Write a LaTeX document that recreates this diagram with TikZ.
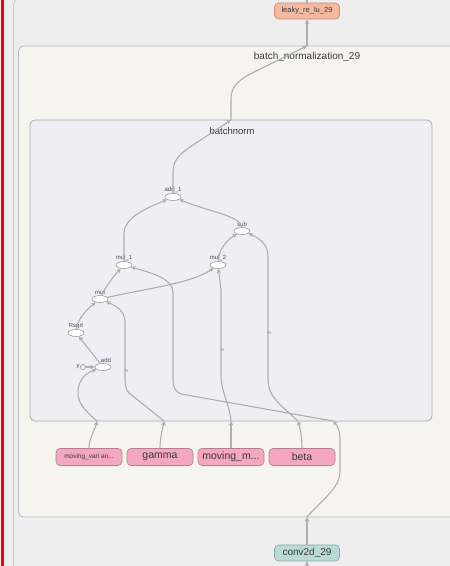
\documentclass[tikz,border=0pt]{standalone}
\usepackage{fontspec}
\setmainfont{Liberation Sans}
\usetikzlibrary{arrows.meta,shapes.geometric}
\definecolor{bgc}{HTML}{EEEEEE}
\definecolor{creamc}{HTML}{F5F4EF}
\definecolor{lavc}{HTML}{F0EEF5}
\definecolor{boxline}{HTML}{BBBBBB}
\definecolor{edgec}{HTML}{AEAEAE}
\definecolor{txtc}{HTML}{3A3A3A}
\definecolor{lblc}{HTML}{4A4A5A}
\definecolor{salmonf}{HTML}{F3B9A1}
\definecolor{salmond}{HTML}{C98A70}
\definecolor{pinkf}{HTML}{F4A7C0}
\definecolor{pinkd}{HTML}{B97D90}
\definecolor{tealf}{HTML}{BAD9D9}
\definecolor{teald}{HTML}{86A8A8}
\tikzset{
  edge/.style={draw=edgec, line width=1.1pt, -{Stealth[length=4.5pt,width=4.5pt]}},
  plainedge/.style={draw=edgec, line width=1.1pt},
  opnode/.style={ellipse, draw=black!38, fill=white, line width=0.6pt, minimum width=16pt, minimum height=7pt, inner sep=0pt},
  oplbl/.style={font=\fontsize{6}{6}\selectfont, text=lblc, inner sep=0.5pt},
  metabox/.style={rounded corners=4pt, line width=0.6pt, minimum height=17pt, inner sep=1pt, text=txtc},
  pinkbox/.style={metabox, fill=pinkf, draw=pinkd, minimum width=66pt, font=\fontsize{10.5}{10.5}\selectfont},
  elbl/.style={font=\fontsize{5}{5}\selectfont, text=black!50, rotate=90, inner sep=0pt}
}
\begin{document}
\begin{tikzpicture}[x=1pt,y=-1pt]
\useasboundingbox (0,0) rectangle (450,566);
% background
\fill[bgc] (0,0) rectangle (450,566);
\fill[red] (1,0) rectangle (4,566);
% outer container
\draw[black!22, line width=0.8pt, rounded corners=10pt, fill=bgc] (13.5,-4) rectangle (470,580);
% batch_normalization_29 box
\draw[boxline, line width=0.8pt, rounded corners=5pt, fill=creamc] (18.5,46) rectangle (470,517);
\node[font=\fontsize{10}{10}\selectfont, text=txtc] (bnlbl) at (307,57) {batch\_normalization\_29};
% batchnorm box
\draw[black!33, line width=0.8pt, rounded corners=5pt, fill=lavc] (30,120) rectangle (432,421);
\draw[white, line width=0.8pt] (423,125.5) -- (428,125.5);
\node[font=\fontsize{9.5}{9.5}\selectfont, text=txtc] (bnormlbl) at (232,131) {batchnorm};

% top / bottom nodes
\node[metabox, fill=salmonf, draw=salmond, minimum width=65pt, minimum height=16pt, font=\fontsize{7.5}{7.5}\selectfont] (lk) at (307,11) {leaky\_re\_lu\_29};
\node[metabox, fill=tealf, draw=teald, minimum width=65pt, minimum height=16pt, font=\fontsize{10}{10}\selectfont] (cv) at (307,553) {conv2d\_29};
\node[pinkbox, font=\fontsize{6.5}{6.5}\selectfont] (mv) at (89,457) {moving\_vari an...};
\node[pinkbox] (gm) at (160,457) {gamma};
\node[pinkbox] (mm) at (231,457) {moving\_m...};
\node[pinkbox] (bt) at (302,457) {beta};

% ops
\node[opnode, label={[oplbl]above:add\_1}] (add1) at (173,197) {};
\node[opnode, label={[oplbl]above:sub}] (sub) at (242,231) {};
\node[opnode, label={[oplbl]above:mul\_1}] (mul1) at (124,265) {};
\node[opnode, label={[oplbl]above:mul\_2}] (mul2) at (218,265) {};
\node[opnode, label={[oplbl]above:mul}] (mul) at (100,299) {};
\node[opnode, label={[oplbl]above:Rsqrt}] (rs) at (76,333) {};
\node[opnode, label={[oplbl,xshift=3pt]above:add}] (add) at (103,367) {};
\node[circle, draw=black!45, fill=white, line width=0.6pt, minimum size=5pt, inner sep=0pt, label={[oplbl]left:y}] (yc) at (83,367) {};

% boundary coordinates
\coordinate (c1) at (97,421);
\coordinate (c2) at (164,421);
\coordinate (c3) at (231,421);
\coordinate (c4) at (298,421);
\coordinate (c5) at (307,517);
\coordinate (c6) at (333,421);
\coordinate (c7) at (231,120);
\coordinate (c8) at (307,46);
\coordinate (cbot) at (307,568);
\coordinate (ctop) at (307,-2);

% edges from outside
\draw[edge] (mv.north) .. controls (89,438) and (95,430) .. (c1);
\draw[edge] (c1) .. controls (82,408) and (78,402) .. (78,392) .. controls (78,380) and (86,373) .. (add);
\draw[edge] (gm.north) .. controls (160,436) and (163,428) .. (c2);
\draw[edge] (c2) -- (129,393) .. controls (126,390) and (125,386) .. (125,378) -- (125,322) .. controls (125,310) and (114,305) .. (mul);
\draw[edge] (mm.north) -- (c3);
\draw[edge] (c3) .. controls (229,402) and (221,392) .. (221,375) -- (221,290) -- (mul2);
\draw[edge] (bt.north) .. controls (302,436) and (300,428) .. (c4);
\draw[edge] (c4) .. controls (277,402) and (268,395) .. (268,380) -- (268,256) .. controls (268,243) and (257,237) .. (sub);
\draw[edge] (cbot) -- (cv.south);
\draw[edge] (cv.north) -- (c5);
\draw[edge] (c5) .. controls (325,497) and (340,487) .. (340,472) -- (340,440) .. controls (340,430) and (337,425) .. (c6);
\draw[edge] (c6) -- (181,394) .. controls (176,392) and (173,388) .. (173,380) -- (173,292) .. controls (173,278) and (148,272) .. (mul1);

% internal edges
\draw[edge] (yc) -- (add);
\draw[edge] (add) -- (rs);
\draw[edge] (rs) .. controls (77,320) and (86,310) .. (mul);
\draw[edge] (mul) .. controls (105,288) and (112,278) .. (mul1);
\draw[edge] (mul) .. controls (150,288) and (192,283) .. (mul2);
\draw[edge] (mul1) -- (124,234) .. controls (124,216) and (150,207) .. (add1);
\draw[edge] (mul2) -- (219,256) .. controls (221,246) and (230,238) .. (sub);
\draw[edge] (sub) .. controls (241,216) and (210,212) .. (add1);

% edges to leaky_re_lu_29
\draw[edge] (add1) -- (173,172) .. controls (173,160) and (180,154) .. (190,147) -- (c7);
\draw[edge] (c7) -- (231,100) .. controls (231,88) and (236,82) .. (250,74) -- (c8);
\draw[edge] (c8) -- (lk.south);
\draw[plainedge] (lk.north) -- (ctop);

% edge labels
\node[elbl] (l1) at (126.5,371) {2};
\node[elbl] (l2) at (222.5,350) {2};
\node[elbl] (l3) at (269.5,333) {2};
\end{tikzpicture}
\end{document}
